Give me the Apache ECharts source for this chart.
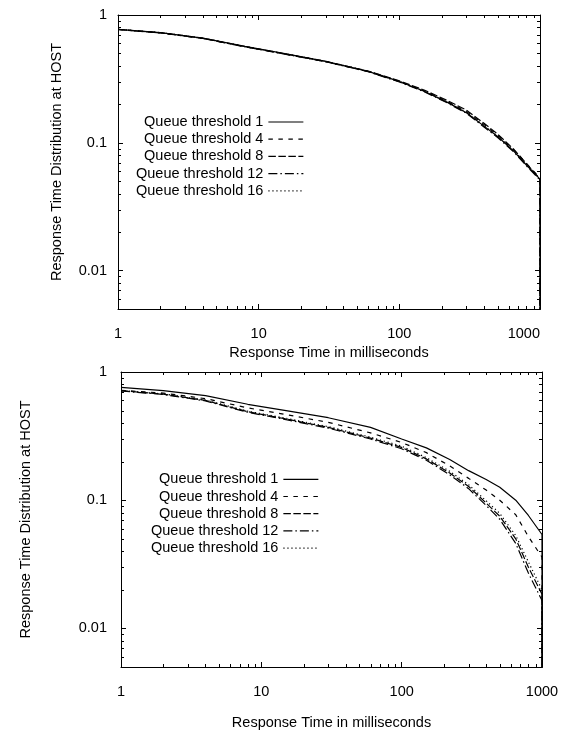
<!DOCTYPE html>
<html>
<head>
<meta charset="utf-8">
<script src="https://cdn.jsdelivr.net/npm/echarts@6/dist/echarts.min.js"></script>
<style>
  html, body { margin: 0; padding: 0; background: #fff; }
  #chart { width: 568px; height: 732px; }
</style>
</head>
<body>
<div id="chart"></div>
<script>
// Response time (ms) sample points shared by both plots
const responseTimes = [1, 2, 4, 8, 15, 30, 60, 100, 150, 220, 300, 400, 500, 650, 800, 1000];
// Past the timeout the distribution falls to (practically) zero
const cutoffValue = 1e-4;

const thresholdNames = [
  'Queue threshold 1',
  'Queue threshold 4',
  'Queue threshold 8',
  'Queue threshold 12',
  'Queue threshold 16'
];

// Upper plot: the five thresholds nearly coincide
const upperQ1  = [0.772, 0.727, 0.660, 0.568, 0.500, 0.434, 0.362, 0.302, 0.253, 0.207, 0.172, 0.135, 0.112, 0.086, 0.067, 0.052];
const upperQ4  = [0.770, 0.725, 0.657, 0.564, 0.497, 0.431, 0.361, 0.301, 0.255, 0.210, 0.176, 0.139, 0.115, 0.088, 0.069, 0.053];
const upperQ8  = [0.771, 0.726, 0.658, 0.566, 0.499, 0.433, 0.364, 0.305, 0.259, 0.214, 0.180, 0.142, 0.117, 0.089, 0.069, 0.052];
const upperQ12 = [0.770, 0.724, 0.656, 0.563, 0.496, 0.430, 0.360, 0.299, 0.251, 0.205, 0.170, 0.133, 0.110, 0.085, 0.066, 0.051];
const upperQ16 = [0.772, 0.728, 0.661, 0.567, 0.500, 0.434, 0.363, 0.303, 0.254, 0.208, 0.173, 0.136, 0.113, 0.087, 0.068, 0.052];

// Lower plot: higher thresholds shorten the response time
const lowerQ1  = [0.760, 0.715, 0.655, 0.560, 0.500, 0.440, 0.370, 0.300, 0.256, 0.208, 0.170, 0.145, 0.126, 0.100, 0.076, 0.054];
const lowerQ4  = [0.720, 0.685, 0.620, 0.525, 0.465, 0.405, 0.335, 0.282, 0.235, 0.185, 0.148, 0.120, 0.100, 0.077, 0.052, 0.036];
const lowerQ8  = [0.715, 0.672, 0.600, 0.490, 0.430, 0.370, 0.305, 0.258, 0.210, 0.163, 0.128, 0.095, 0.075, 0.050, 0.030, 0.0185];
const lowerQ12 = [0.712, 0.668, 0.595, 0.485, 0.425, 0.365, 0.300, 0.252, 0.205, 0.158, 0.123, 0.091, 0.071, 0.046, 0.027, 0.0165];
const lowerQ16 = [0.716, 0.675, 0.605, 0.495, 0.435, 0.375, 0.310, 0.264, 0.215, 0.168, 0.132, 0.099, 0.079, 0.053, 0.033, 0.020];

// Minor tick positions on the log axes (2..9 in every decade)
const xMinorTicks = [2, 3, 4, 5, 6, 7, 8, 9, 20, 30, 40, 50, 60, 70, 80, 90, 200, 300, 400, 500, 600, 700, 800, 900];
const yMinorTicks = [0.006, 0.007, 0.008, 0.009, 0.02, 0.03, 0.04, 0.05, 0.06, 0.07, 0.08, 0.09, 0.2, 0.3, 0.4, 0.5, 0.6, 0.7, 0.8, 0.9];

const xTitle = 'Response Time in milliseconds';
const yTitle = 'Response Time Distribution at HOST';

const FONT = '"Liberation Sans", Arial, Helvetica, sans-serif';
const FS = 14.5;
const dashStyles = ['solid', [4.5, 5.5], [7.5, 2.5], [9, 3, 1.5, 3], [1.2, 2.8]];

const fmt = v => String(+Number(v).toPrecision(4));

function lineSeries(g, sets) {
  const last = responseTimes[responseTimes.length - 1];
  return sets.map((vals, i) => ({
    type: 'line',
    name: thresholdNames[i],
    xAxisIndex: 2 * g,
    yAxisIndex: 2 * g,
    data: responseTimes.map((t, k) => [t, vals[k]]).concat([[last, cutoffValue]]),
    symbol: 'none',
    silent: true,
    animation: false,
    clip: true,
    lineStyle: { color: '#000', width: 1.2, type: dashStyles[i] },
    itemStyle: { color: '#000', opacity: 0 },
    z: 3
  }));
}

function minorTicks(g) {
  const line = (x1, y1, x2, y2) => ({
    type: 'line', shape: { x1, y1, x2, y2 }, style: { stroke: '#000', lineWidth: 1 }
  });
  return [
    {
      type: 'custom', xAxisIndex: 2 * g, yAxisIndex: 2 * g, silent: true, animation: false, clip: false,
      data: xMinorTicks.map(v => [v, 1]),
      renderItem(params, api) {
        const cs = params.coordSys;
        const x = Math.round(api.coord([api.value(0), api.value(1)])[0]) + 0.5;
        const yb = cs.y + cs.height, yt = cs.y;
        return { type: 'group', children: [line(x, yb, x, yb - 3), line(x, yt, x, yt + 3)] };
      }
    },
    {
      type: 'custom', xAxisIndex: 2 * g, yAxisIndex: 2 * g, silent: true, animation: false, clip: false,
      data: yMinorTicks.map(v => [1, v]),
      renderItem(params, api) {
        const cs = params.coordSys;
        const y = Math.round(api.coord([api.value(0), api.value(1)])[1]) + 0.5;
        const xl = cs.x, xr = cs.x + cs.width;
        return { type: 'group', children: [line(xl, y, xl + 3, y), line(xr, y, xr - 3, y)] };
      }
    }
  ];
}

const axisCommon = {
  axisLine: { show: true, onZero: false, lineStyle: { color: '#000', width: 1 } },
  axisTick: { show: true, inside: true, length: 5, lineStyle: { color: '#000', width: 1 } },
  splitLine: { show: false },
  minorTick: { show: false },
  minorSplitLine: { show: false }
};
const labelStyle = { color: '#000', fontSize: FS, fontFamily: FONT };

function xAxes(g, nameGap, alignMax) {
  const base = Object.assign({ type: 'log', logBase: 10, min: 1, max: 1000, gridIndex: g }, axisCommon);
  return [
    Object.assign({}, base, {
      position: 'bottom',
      name: xTitle, nameLocation: 'middle', nameGap: nameGap,
      nameTextStyle: labelStyle,
      axisLabel: Object.assign({ margin: 17, formatter: fmt, alignMaxLabel: alignMax }, labelStyle)
    }),
    Object.assign({}, base, { position: 'top', axisLabel: { show: false } })
  ];
}

function yAxes(g, nameGap, margin) {
  const base = Object.assign({ type: 'log', logBase: 10, min: 0.005, max: 1, gridIndex: g }, axisCommon);
  return [
    Object.assign({}, base, {
      position: 'left',
      name: yTitle, nameLocation: 'middle', nameGap: nameGap,
      nameTextStyle: labelStyle,
      axisLabel: Object.assign({ margin: margin, formatter: fmt, showMinLabel: false }, labelStyle)
    }),
    Object.assign({}, base, { position: 'right', axisLabel: { show: false } })
  ];
}

function legendAt(left, top) {
  return {
    data: thresholdNames,
    orient: 'vertical',
    left: left, top: top,
    align: 'right',
    padding: 0,
    itemWidth: 35, itemHeight: 10, itemGap: 2.2,
    selectedMode: false,
    itemStyle: { opacity: 0 },
    lineStyle: { width: 1.2, color: '#000', opacity: 1 },
    textStyle: { color: '#000', fontSize: FS, fontFamily: FONT }
  };
}

const chart = echarts.init(document.getElementById('chart'), null, { renderer: 'canvas' });
chart.setOption({
  animation: false,
  backgroundColor: '#fff',
  textStyle: { fontFamily: FONT },
  grid: [
    { left: 118, top: 15, width: 422, height: 294, outerBoundsMode: 'none' },
    { left: 121, top: 372, width: 421, height: 295, outerBoundsMode: 'none' }
  ],
  xAxis: xAxes(0, 36, 'right').concat(xAxes(1, 48, undefined)),
  yAxis: yAxes(0, 54, 11).concat(yAxes(1, 88, 14)),
  legend: [legendAt(136, 114.5), legendAt(151, 471.8)],
  series: []
    .concat(lineSeries(0, [upperQ1, upperQ4, upperQ8, upperQ12, upperQ16]))
    .concat(lineSeries(1, [lowerQ1, lowerQ4, lowerQ8, lowerQ12, lowerQ16]))
    .concat(minorTicks(0))
    .concat(minorTicks(1))
});
</script>
</body>
</html>
